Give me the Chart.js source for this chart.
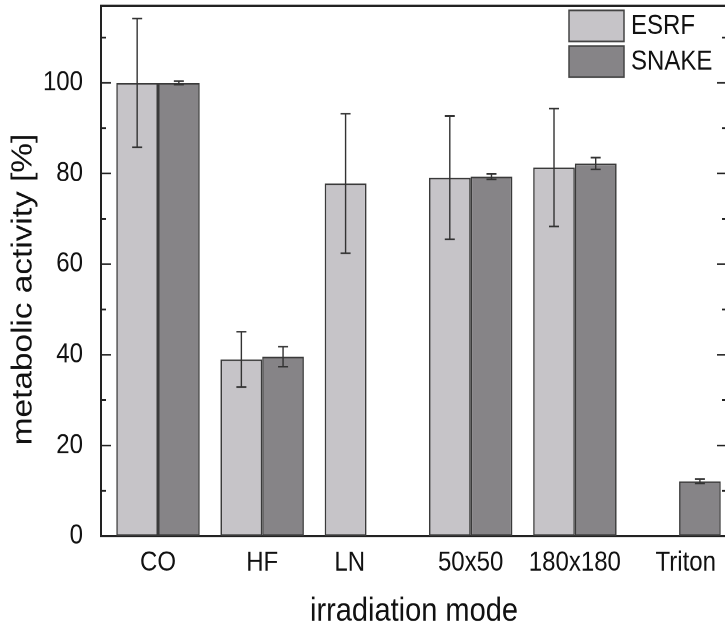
<!DOCTYPE html>
<html>
<head>
<meta charset="utf-8">
<script src="https://cdn.jsdelivr.net/npm/chart.js@4.4.1/dist/chart.umd.min.js"></script>
<style>
  html, body { margin: 0; padding: 0; overflow: hidden; background: #fff; }
</style>
</head>
<body>
<!-- the reference picture is stretched vertically, so the canvas is too -->
<canvas id="myChart" width="740" height="545" style="display:block;width:740px;height:627px"></canvas>
<script>
// metabolic activity per irradiation mode

var categories = ['CO', 'HF', 'LN', '50x50', '180x180', 'Triton'];
// small spacing so the label sits like in the original figure
var tickLabels = ['CO', 'HF', 'LN     ', '50x50', '180x180', '  Triton'];

var esrfValues = [100, 39.0, 77.8, 79.1, 81.3, null];
var esrfErrors = [14.2, 6.1, 15.4, 13.6, 13.0, null];

var snakeValues = [100, 39.6, null, 79.3, 82.2, 12.1];
var snakeErrors = [0.4, 2.2, null, 0.6, 1.3, 0.5];

var yTicks = [0, 20, 40, 60, 80, 100];

var fontFamily = '"Liberation Sans", Arial, Helvetica, sans-serif';
var ink = '#222';

function points(values) {
    return values.map(function (v, i) { return { x: i + 1, y: v }; });
}

// error bars, drawn on top of the bars
var errorBars = {
    id: 'errorBars',
    afterDatasetsDraw: function (chart) {
        var ctx = chart.ctx;
        var y = chart.scales.y;
        chart.data.datasets.forEach(function (ds, di) {
            var meta = chart.getDatasetMeta(di);
            ds.errors.forEach(function (err, i) {
                var v = ds.data[i].y;
                if (v === null || err === null) return;
                var bar = meta.data[i];
                var top = y.getPixelForValue(v + err);
                var bot = y.getPixelForValue(v - err);
                ctx.save();
                ctx.strokeStyle = '#333';
                ctx.lineWidth = 1.4;
                ctx.beginPath();
                ctx.moveTo(bar.x, top); ctx.lineTo(bar.x, bot);
                ctx.moveTo(bar.x - 5, top); ctx.lineTo(bar.x + 5, top);
                ctx.moveTo(bar.x - 5, bot); ctx.lineTo(bar.x + 5, bot);
                ctx.stroke();
                ctx.restore();
            });
        });
    }
};

// frame on top/right and inward ticks (major every 20, minor every 10)
var frame = {
    id: 'frame',
    afterDraw: function (chart) {
        var ctx = chart.ctx;
        var a = chart.chartArea;
        var y = chart.scales.y;
        ctx.save();
        ctx.strokeStyle = ink;
        ctx.lineWidth = 2;
        ctx.beginPath();
        ctx.moveTo(a.left - 1, a.top); ctx.lineTo(a.right, a.top);
        ctx.moveTo(a.right, a.top); ctx.lineTo(a.right, a.bottom);
        ctx.stroke();
        ctx.lineWidth = 1.5;
        ctx.beginPath();
        for (var v = 10; v <= y.max; v += 10) {
            var p = y.getPixelForValue(v);
            var len = v % 20 === 0 ? 10 : 5;
            ctx.moveTo(a.left, p); ctx.lineTo(a.left + len, p);
            ctx.moveTo(a.right, p); ctx.lineTo(a.right - len, p);
        }
        ctx.stroke();
        ctx.restore();
    }
};

// legend box inside the plot, top right
var boxLegend = {
    id: 'boxLegend',
    afterDraw: function (chart) {
        var ctx = chart.ctx;
        var a = chart.chartArea;
        var x0 = a.right - 158;
        ctx.save();
        ctx.font = '24px ' + fontFamily;
        ctx.textBaseline = 'middle';
        chart.data.datasets.forEach(function (ds, i) {
            var top = a.top + 4 + i * 31;
            ctx.fillStyle = ds.backgroundColor;
            ctx.fillRect(x0, top, 55, 27);
            ctx.strokeStyle = '#444';
            ctx.lineWidth = 1.5;
            ctx.strokeRect(x0, top, 55, 27);
            ctx.fillStyle = '#111';
            ctx.fillText(ds.label, x0 + 62, top + 14);
        });
        ctx.restore();
    }
};

new Chart('myChart', {
    type: 'bar',
    data: {
        datasets: [{
            label: 'ESRF',
            data: points(esrfValues),
            errors: esrfErrors,
            backgroundColor: '#c6c4c8',
            borderColor: '#3a3a3a',
            borderWidth: 1.5,
            borderSkipped: false
        }, {
            label: 'SNAKE',
            data: points(snakeValues),
            errors: snakeErrors,
            backgroundColor: '#868487',
            borderColor: '#3a3a3a',
            borderWidth: 1.5,
            borderSkipped: false
        }]
    },
    options: {
        responsive: false,
        animation: false,
        devicePixelRatio: 2,
        categoryPercentage: 0.8,
        barPercentage: 1.0,
        layout: { padding: { top: 5, right: 13, left: 0, bottom: 0 } },
        plugins: {
            legend: { display: false },
            tooltip: { enabled: false }
        },
        scales: {
            x: {
                type: 'linear',
                offset: false,
                min: 0.453,
                max: 6.46,
                grid: { display: false },
                border: { display: true, width: 2, color: ink },
                afterBuildTicks: function (s) {
                    s.ticks = categories.map(function (c, i) { return { value: i + 1 }; });
                },
                ticks: {
                    padding: 1,
                    color: '#111',
                    font: { family: fontFamily, size: 24 },
                    callback: function (v) { return tickLabels[v - 1]; }
                },
                title: {
                    display: true,
                    text: 'irradiation mode',
                    color: '#111',
                    font: { family: fontFamily, size: 29 },
                    padding: { top: 0, bottom: -4 }
                },
                afterFit: function (s) {
                    s.height = 79;
                    s.paddingLeft = 0;
                    s.paddingRight = 0;
                }
            },
            y: {
                min: 0,
                max: 117,
                grid: { display: false },
                border: { display: true, width: 2, color: ink },
                afterBuildTicks: function (s) {
                    s.ticks = yTicks.map(function (v) { return { value: v }; });
                },
                ticks: {
                    padding: 10,
                    color: '#111',
                    font: { family: fontFamily, size: 24 }
                },
                title: {
                    display: true,
                    text: 'metabolic activity [%]    ',
                    color: '#111',
                    font: { family: fontFamily, size: 29 },
                    padding: { top: 6, bottom: 0 }
                },
                afterFit: function (s) {
                    s.width = 101;
                    s.paddingTop = 0;
                    s.paddingBottom = 0;
                }
            }
        }
    },
    plugins: [errorBars, frame, boxLegend]
});
</script>
</body>
</html>
